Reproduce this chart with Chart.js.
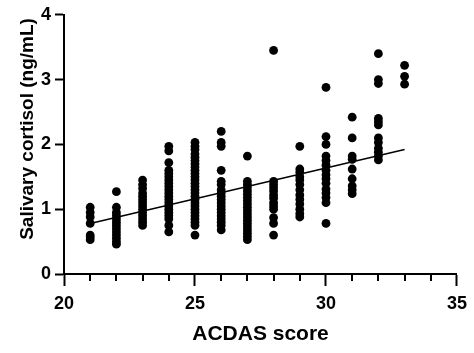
<!DOCTYPE html>
<html>
<head>
<meta charset="utf-8">
<script src="https://cdn.jsdelivr.net/npm/chart.js@4/dist/chart.umd.min.js"></script>
<style>
  html, body { margin: 0; padding: 0; background: #fff; }
  #wrap { width: 474px; height: 353px; position: relative; }
</style>
</head>
<body>
<div id="wrap"><canvas id="chart"></canvas></div>
<script>
(function () {
    'use strict';

    // ── data ──────────────────────────────────────────────────────────────
    var scores = [21, 22, 23, 24, 25, 26, 27, 28, 29, 30, 31, 32, 33];
    var cortisol21 = [1.03, 0.95, 0.88, 0.78, 0.6, 0.57, 0.53];
    var cortisol22 = [1.27, 1.03, 0.95, 0.9, 0.85, 0.8, 0.75, 0.7, 0.65, 0.6, 0.55, 0.5, 0.46];
    var cortisol23 = [1.45, 1.38, 1.32, 1.25, 1.2, 1.15, 1.1, 1.05, 1.0, 0.95, 0.9, 0.85, 0.8, 0.75];
    var cortisol24 = [1.97, 1.9, 1.72, 1.6, 1.55, 1.5, 1.45, 1.4, 1.35, 1.3, 1.25, 1.2, 1.15, 1.1,
                      1.05, 1.0, 0.95, 0.9, 0.85, 0.75, 0.65];
    var cortisol25 = [2.03, 1.97, 1.92, 1.85, 1.8, 1.75, 1.7, 1.65, 1.6, 1.55, 1.5, 1.45, 1.4, 1.35,
                      1.3, 1.25, 1.2, 1.15, 1.1, 1.05, 1.0, 0.95, 0.9, 0.85, 0.8, 0.75, 0.6];
    var cortisol26 = [2.2, 2.03, 1.97, 1.6, 1.43, 1.38, 1.3, 1.25, 1.2, 1.15, 1.1, 1.05, 1.0, 0.95,
                      0.9, 0.85, 0.8, 0.75, 0.68];
    var cortisol27 = [1.82, 1.43, 1.38, 1.33, 1.28, 1.23, 1.18, 1.13, 1.08, 1.03, 0.98, 0.93, 0.88,
                      0.83, 0.78, 0.73, 0.68, 0.63, 0.58, 0.53];
    var cortisol28 = [3.45, 1.43, 1.38, 1.33, 1.28, 1.22, 1.17, 1.1, 1.05, 1.0, 0.87, 0.78, 0.6];
    var cortisol29 = [1.97, 1.62, 1.57, 1.5, 1.45, 1.38, 1.3, 1.22, 1.15, 1.08, 1.0, 0.93, 0.88];
    var cortisol30 = [2.88, 2.12, 2.0, 1.82, 1.75, 1.68, 1.6, 1.53, 1.47, 1.4, 1.31, 1.25, 1.18, 1.1, 0.78];
    var cortisol31 = [2.42, 2.1, 1.82, 1.77, 1.62, 1.47, 1.36, 1.3, 1.24];
    var cortisol32 = [3.4, 3.0, 2.94, 2.4, 2.35, 2.3, 2.1, 2.03, 1.94, 1.88, 1.82, 1.76];
    var cortisol33 = [3.22, 3.05, 2.93];

    var fitX = [21, 33];
    var fitY = [0.78, 1.92];

    var xTicks = [20, 25, 30, 35];
    var yTicks = [0, 1, 2, 3, 4];

    var yTitle = 'Salivary cortisol (ng/mL)';

    var columns = [cortisol21, cortisol22, cortisol23, cortisol24, cortisol25, cortisol26, cortisol27,
                   cortisol28, cortisol29, cortisol30, cortisol31, cortisol32, cortisol33];

    // ── build points ──────────────────────────────────────────────────────
    var points = [];
    columns.forEach(function (vals, i) {
        vals.forEach(function (v) { points.push({ x: scores[i], y: v }); });
    });
    var fitPoints = fitX.map(function (x, i) { return { x: x, y: fitY[i] }; });

    var FONT = '"Liberation Sans", Arial, sans-serif';

    // short minor ticks on the x axis + y title sitting a bit above centre
    var extras = {
        id: 'extras',
        afterDraw: function (chart) {
            var xs = chart.scales.x, ctx = chart.ctx;
            var yPix = chart.chartArea.bottom;
            ctx.save();
            ctx.strokeStyle = '#000';
            ctx.lineWidth = 2;
            for (var v = xs.min; v <= xs.max; v++) {
                if (xTicks.indexOf(v) !== -1) continue;
                var px = Math.round(xs.getPixelForValue(v));
                ctx.beginPath();
                ctx.moveTo(px, yPix);
                ctx.lineTo(px, yPix + 7);
                ctx.stroke();
            }
            ctx.translate(33, 129);
            ctx.rotate(-Math.PI / 2);
            ctx.fillStyle = '#000';
            ctx.font = 'bold 19px ' + FONT;
            ctx.textAlign = 'center';
            ctx.textBaseline = 'alphabetic';
            ctx.fillText(yTitle, 0, 0);
            ctx.restore();
        }
    };

    new Chart(document.getElementById('chart').getContext('2d'), {
        type: 'scatter',
        data: {
            datasets: [{
                data: points,
                backgroundColor: '#000',
                borderWidth: 0,
                pointRadius: 4.4,
                pointHoverRadius: 4.4
            }, {
                type: 'line',
                data: fitPoints,
                borderColor: '#000',
                borderWidth: 1.5,
                pointRadius: 0,
                fill: false
            }]
        },
        options: {
            responsive: true,
            maintainAspectRatio: false,
            animation: false,
            layout: { padding: { left: 0, right: 17, top: 12, bottom: 0 } },
            plugins: { legend: { display: false }, tooltip: { enabled: false } },
            scales: {
                x: {
                    type: 'linear',
                    min: 20, max: 35,
                    afterBuildTicks: function (s) {
                        s.ticks = xTicks.map(function (v) { return { value: v }; });
                    },
                    afterFit: function (s) { s.height = 79; },
                    border: { display: true, color: '#000', width: 2 },
                    grid: { drawOnChartArea: false, drawTicks: true, tickLength: 12, tickWidth: 2, tickColor: '#000' },
                    ticks: { color: '#000', font: { family: FONT, size: 18, weight: 'bold' }, padding: 7, maxRotation: 0 },
                    title: {
                        display: true, text: 'ACDAS score', color: '#000',
                        font: { family: FONT, size: 21, weight: 'bold' }, padding: { top: 0, bottom: 6 }
                    }
                },
                y: {
                    min: 0, max: 4,
                    afterBuildTicks: function (s) {
                        s.ticks = yTicks.map(function (v) { return { value: v }; });
                    },
                    afterFit: function (s) { s.width = 64; },
                    border: { display: true, color: '#000', width: 2 },
                    grid: { drawOnChartArea: false, drawTicks: true, tickLength: 9, tickWidth: 2, tickColor: '#000' },
                    ticks: { color: '#000', font: { family: FONT, size: 18, weight: 'bold' }, padding: 4 },
                    title: { display: false }
                }
            }
        },
        plugins: [extras]
    });
})();
</script>
</body>
</html>
